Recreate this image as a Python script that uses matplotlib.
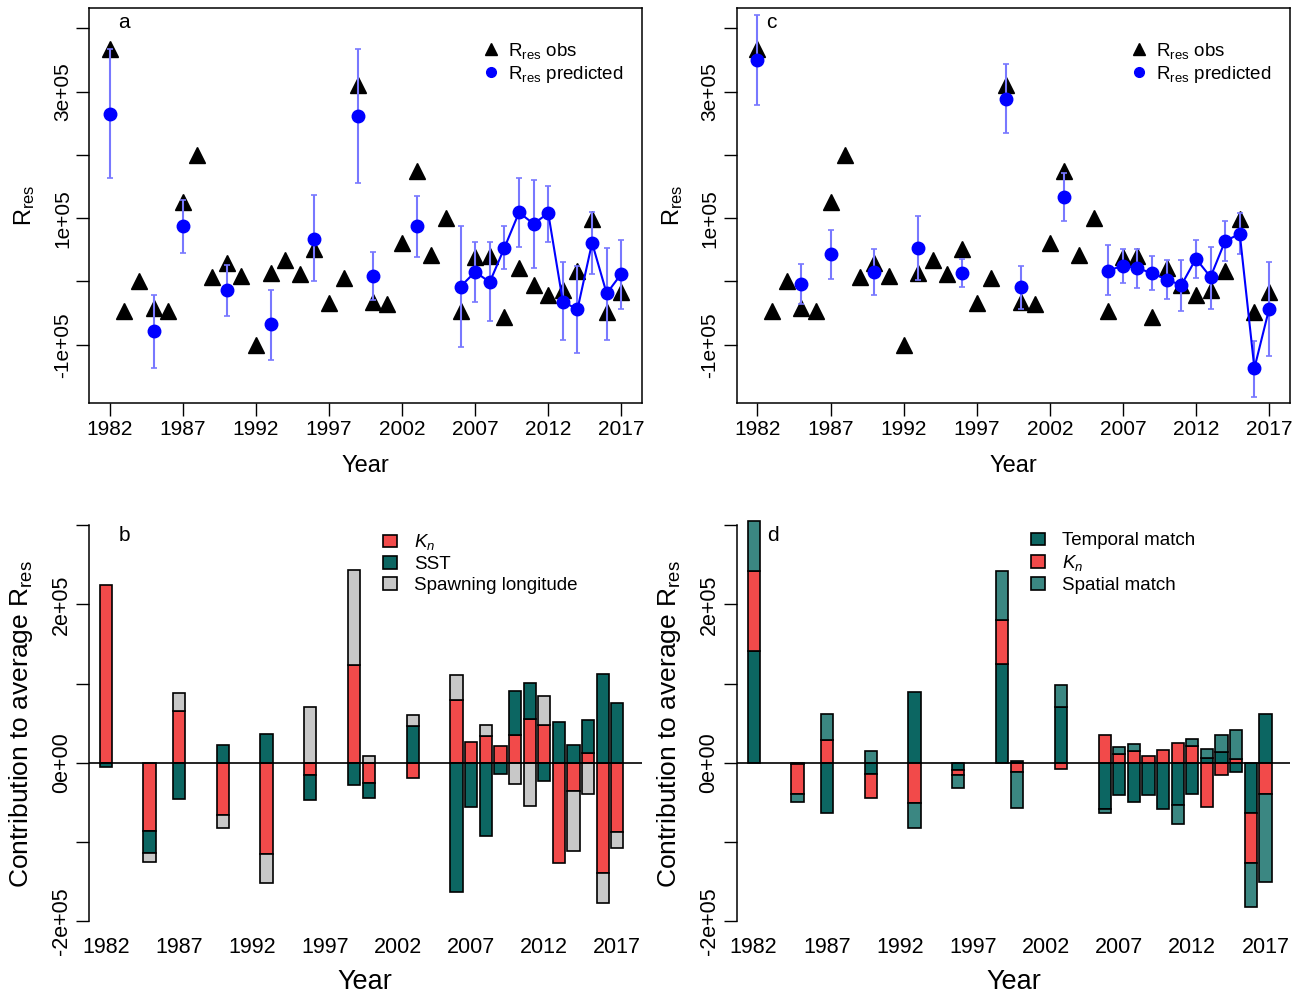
import numpy as np
import matplotlib
matplotlib.use('Agg')
import matplotlib.pyplot as plt
from matplotlib.patches import Patch
from matplotlib.lines import Line2D

plt.rcParams['font.family'] = 'Liberation Sans'
plt.rcParams['mathtext.fontset'] = 'custom'
plt.rcParams['mathtext.rm'] = 'Liberation Sans'
plt.rcParams['mathtext.it'] = 'Liberation Sans:italic'

# observed residual recruitment, all years (units of 1e5)
years = np.arange(1982, 2018)
obs = [3.67, -0.46, 0.00, -0.42, -0.46, 1.26, 2.00, 0.07, 0.29, 0.08,
       -1.00, 0.14, 0.34, 0.12, 0.51, -0.34, 0.05, 3.11, -0.33, -0.35,
       0.61, 1.74, 0.41, 1.00, -0.47, 0.38, 0.40, -0.56, 0.21, -0.05,
       -0.21, -0.13, 0.16, 0.98, -0.49, -0.16]

# panel a: predicted with intervals
predYearsA = [1982, 1985, 1987, 1990, 1993, 1996, 1999, 2000, 2003, 2006, 2007,
              2008, 2009, 2010, 2011, 2012, 2013, 2014, 2015, 2016, 2017]
predA = [2.64, -0.79, 0.88, -0.14, -0.68, 0.67, 2.61, 0.09, 0.87, -0.08, 0.15,
         -0.01, 0.53, 1.09, 0.91, 1.08, -0.32, -0.44, 0.61, -0.19, 0.12]
hiA = [3.67, -0.21, 1.29, 0.26, -0.14, 1.37, 3.67, 0.47, 1.35, 0.88, 0.62,
       0.62, 0.87, 1.64, 1.61, 1.51, 0.30, 0.24, 1.09, 0.53, 0.65]
loA = [1.63, -1.37, 0.45, -0.54, -1.24, 0.00, 1.55, -0.29, 0.38, -1.04, -0.33,
       -0.62, 0.19, 0.54, 0.22, 0.63, -0.93, -1.13, 0.11, -0.92, -0.43]

# panel c: predicted with intervals
predYearsC = predYearsA
predC = [3.50, -0.04, 0.43, 0.15, 0.53, 0.13, 2.88, -0.09, 1.33, 0.17, 0.25,
         0.21, 0.13, 0.03, -0.06, 0.36, 0.07, 0.64, 0.75, -1.37, -0.44]
hiC = [4.21, 0.28, 0.82, 0.51, 1.03, 0.36, 3.43, 0.25, 1.72, 0.58, 0.52,
       0.52, 0.40, 0.34, 0.34, 0.65, 0.55, 0.96, 1.08, -0.94, 0.31]
loC = [2.79, -0.35, 0.04, -0.21, 0.02, -0.09, 2.34, -0.43, 0.96, -0.22, -0.03,
       -0.11, -0.13, -0.28, -0.47, 0.06, -0.43, 0.33, 0.44, -1.82, -1.18]

# panels b, d: contributions (units of 1e5)
barYears = predYearsA
knB = [2.24, -0.86, 0.65, -0.66, -1.15, -0.15, 1.24, -0.26, -0.19, 0.79, 0.26,
       0.34, 0.21, 0.35, 0.55, 0.48, -1.26, -0.36, 0.12, -1.39, -0.88]
sstB = [-0.05, -0.28, -0.46, 0.23, 0.37, -0.32, -0.28, -0.19, 0.46, -1.63, -0.56,
        -0.93, -0.14, 0.56, 0.46, -0.23, 0.51, 0.23, 0.42, 1.12, 0.75]
slB = [0.00, -0.11, 0.23, -0.16, -0.37, 0.70, 1.20, 0.09, 0.15, 0.32, 0.00,
       0.14, 0.00, -0.27, -0.55, 0.37, 0.00, -0.76, -0.39, -0.38, -0.20]

tempD = [1.41, -0.01, -0.64, -0.14, 0.89, -0.09, 1.25, 0.02, 0.71, -0.58, -0.41,
         -0.50, -0.41, -0.58, -0.53, -0.39, 0.06, 0.14, -0.11, -0.64, 0.62]
knD = [1.01, -0.38, 0.29, -0.30, -0.51, -0.06, 0.56, -0.12, -0.08, 0.35, 0.11,
       0.15, 0.09, 0.16, 0.25, 0.21, -0.56, -0.16, 0.05, -0.63, -0.40]
spatD = [0.64, -0.10, 0.33, 0.15, -0.31, -0.17, 0.61, -0.45, 0.27, -0.05, 0.09,
         0.09, 0.00, 0.00, -0.24, 0.09, 0.12, 0.21, 0.37, -0.55, -1.10]

red = '#F24A4A'
teal = '#0C6662'
grey = '#C8C8C8'
spat = '#3B8782'
errBlue = '#7878FF'
rres = r'$\mathrm{R_{res}}$'
tickYears = np.arange(1982, 2018, 5)


def scatterPanel(ax, pYears, pred, lo, hi, tag):
    pYears = np.array(pYears)
    pred = np.array(pred) * 1e5
    lo = np.array(lo) * 1e5
    hi = np.array(hi) * 1e5
    ax.plot(years, np.array(obs) * 1e5, ls='none', marker='^', ms=11,
            color='black', zorder=2)
    ax.errorbar(pYears, pred, yerr=[pred - lo, hi - pred], fmt='none',
                ecolor=errBlue, elinewidth=1.5, capsize=2.5, capthick=1.2,
                zorder=3)
    m = pYears >= 2006
    ax.plot(pYears[m], pred[m], color='blue', lw=1.5, zorder=4)
    ax.plot(pYears, pred, ls='none', marker='o', ms=9, color='blue', zorder=5)

    ax.set_xlim(1980.58, 2018.42)
    ax.set_ylim(-1.92e5, 4.32e5)
    ax.set_xticks(tickYears)
    ax.set_yticks(np.arange(-1, 5) * 1e5,
                  labels=['-1e+05', '', '1e+05', '', '3e+05', ''])
    ax.tick_params(length=9.4, width=1, pad=2.9, labelsize=15)
    plt.setp(ax.get_yticklabels(), rotation=90, va='center')
    for s in ax.spines.values():
        s.set_linewidth(1.1)
    ax.set_xlabel('Year', fontsize=17)
    ax.xaxis.set_label_coords(0.5, -0.16)
    ax.xaxis.label.set_va('center')
    ax.set_ylabel(rres, fontsize=17)
    ax.yaxis.set_label_coords(-0.116, 0.5)
    ax.yaxis.label.set_va('center')
    ax.text(0.063, 0.962, tag, transform=ax.transAxes, fontsize=15,
            ha='center', va='center')
    handles = [Line2D([], [], ls='none', marker='^', ms=9, color='black'),
               Line2D([], [], ls='none', marker='o', ms=7, color='blue')]
    ax.legend(handles, [rres + ' obs', rres + ' predicted'], loc='upper left',
              bbox_to_anchor=(0.693, 0.94), frameon=False, fontsize=13.5,
              borderpad=0, handlelength=1, handletextpad=0.4,
              labelspacing=0.15)


def barPanel(ax, comps, colors, names, tag):
    n = len(barYears)
    posBase = np.zeros(n)
    negBase = np.zeros(n)
    for vals, col in zip(comps, colors):
        vals = np.array(vals) * 1e5
        base = np.where(vals >= 0, posBase, negBase)
        nz = vals != 0
        ax.bar(np.array(barYears)[nz], vals[nz], width=0.833, bottom=base[nz],
               color=col, edgecolor='black', linewidth=1.2, zorder=2)
        posBase += np.where(vals > 0, vals, 0)
        negBase += np.where(vals < 0, vals, 0)
    ax.axhline(0, color='black', lw=1.2, zorder=3)

    ax.set_xlim(1980.84, 2018.68)
    ax.set_ylim(-2.01e5, 3.08e5)
    for side in ['top', 'right', 'bottom']:
        ax.spines[side].set_visible(False)
    ax.spines['left'].set_bounds(-2e5, 3e5)
    ax.spines['left'].set_linewidth(1.1)
    ax.set_xticks(tickYears)
    ax.set_yticks(np.arange(-2, 4) * 1e5,
                  labels=['-2e+05', '', '0e+00', '', '2e+05', ''])
    ax.tick_params(axis='y', length=9.4, width=1, pad=2.9, labelsize=15.5)
    ax.tick_params(axis='x', length=0, pad=10.8, labelsize=15.5)
    plt.setp(ax.get_yticklabels(), rotation=90, va='center')
    ax.set_xlabel('Year', fontsize=19.5)
    ax.xaxis.set_label_coords(0.5, -0.148)
    ax.xaxis.label.set_va('center')
    ax.set_ylabel('Contribution to average ' + rres, fontsize=19)
    ax.yaxis.set_label_coords(-0.122, 0.49)
    ax.yaxis.label.set_va('center')
    ax.text(0.065, 0.96, tag, transform=ax.transAxes, fontsize=15,
            ha='center', va='center')
    handles = [Patch(facecolor=c, edgecolor='black', linewidth=1.2)
               for c in colors]
    ax.legend(handles, names, loc='upper left', bbox_to_anchor=(0.515, 0.99),
              frameon=False, fontsize=13.5, borderpad=0, handlelength=0.75,
              handleheight=0.65, handletextpad=0.9, labelspacing=0.2)


fig = plt.figure(figsize=(13.09, 9.98), dpi=100)
axA = fig.add_axes([0.0680, 0.5962, 0.4225, 0.3958])
axC = fig.add_axes([0.5628, 0.5962, 0.4225, 0.3958])
axB = fig.add_axes([0.0678, 0.0762, 0.4226, 0.4038])
axD = fig.add_axes([0.5628, 0.0762, 0.4227, 0.4038])

scatterPanel(axA, predYearsA, predA, loA, hiA, 'a')
scatterPanel(axC, predYearsC, predC, loC, hiC, 'c')
barPanel(axB, [knB, sstB, slB], [red, teal, grey],
         [r'$K_n$', 'SST', 'Spawning longitude'], 'b')
barPanel(axD, [tempD, knD, spatD], [teal, red, spat],
         ['Temporal match', r'$K_n$', 'Spatial match'], 'd')

fig.savefig('out.png', dpi=100)
